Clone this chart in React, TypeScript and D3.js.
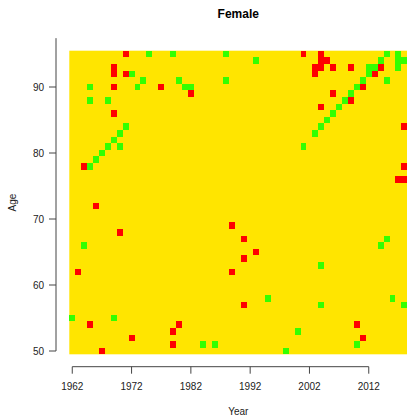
import React from "react";
import * as d3 from "d3";

const years: number[] = d3.range(1962, 2019);
const ages: number[] = d3.range(50, 96);
const xTicks: number[] = [1962, 1972, 1982, 1992, 2002, 2012];
const yTicks: number[] = [50, 60, 70, 80, 90];

const greenCells: [number, number][] = [
  [1975, 95], [1979, 95], [1988, 95], [2015, 95], [2017, 95],
  [1993, 94], [2014, 94], [2017, 94], [2018, 94],
  [2012, 93], [2013, 93], [2017, 93],
  [1972, 92], [2012, 92],
  [1974, 91], [1980, 91], [1988, 91], [2011, 91], [2015, 91],
  [1965, 90], [1973, 90], [1981, 90], [1982, 90], [2010, 90],
  [2009, 89],
  [1965, 88], [1968, 88], [2008, 88],
  [2007, 87],
  [2006, 86],
  [2005, 85],
  [1971, 84], [2004, 84],
  [1970, 83], [2003, 83],
  [1969, 82],
  [1968, 81], [1970, 81], [2001, 81],
  [1967, 80],
  [1966, 79],
  [1965, 78],
  [2015, 67],
  [1964, 66], [2014, 66],
  [2004, 63],
  [1995, 58], [2016, 58],
  [2004, 57], [2018, 57],
  [1962, 55], [1969, 55],
  [2000, 53],
  [1984, 51], [1986, 51], [2010, 51],
  [1998, 50],
];

const redCells: [number, number][] = [
  [1971, 95], [2001, 95], [2004, 95],
  [2004, 94], [2005, 94],
  [1969, 93], [2003, 93], [2004, 93], [2006, 93], [2009, 93], [2014, 93],
  [1969, 92], [1971, 92], [2003, 92], [2013, 92],
  [1969, 90], [1977, 90], [2011, 90],
  [1982, 89], [2006, 89],
  [2009, 88],
  [2004, 87],
  [1969, 86],
  [2018, 84],
  [1964, 78], [2018, 78],
  [2017, 76], [2018, 76],
  [1966, 72],
  [1989, 69],
  [1970, 68],
  [1991, 67],
  [1993, 65],
  [1991, 64],
  [1963, 62], [1989, 62],
  [1991, 57],
  [1965, 54], [1980, 54], [2010, 54],
  [1979, 53],
  [1972, 52], [2011, 52],
  [1979, 51],
  [1967, 50],
];

const W = 407;
const H = 416;
const YELLOW = "#FFE500";
const GREEN = "#33FF00";
const RED = "#FF0000";
const FONT = "'Liberation Sans', Arial, Helvetica, sans-serif";

export default function App() {
  const x = d3
    .scaleLinear()
    .domain([years[0] - 0.5, years[years.length - 1] + 0.5])
    .range([69.3, 407.3]);
  const y = d3
    .scaleLinear()
    .domain([ages[0] - 0.5, ages[ages.length - 1] + 0.5])
    .range([354.3, 50.7]);
  const cw = x(1) - x(0);
  const ch = y(0) - y(1);

  const cell = (c: [number, number], color: string, i: number) => (
    <rect
      key={color + i}
      x={x(c[0] - 0.5)}
      y={y(c[1] + 0.5)}
      width={cw}
      height={ch}
      fill={color}
      shapeRendering="crispEdges"
    />
  );

  const axisY = 366.7;
  const axisX = 56;

  return (
    <div style={{ position: "fixed", left: 0, top: 0 }}>
      <svg width={W} height={H} style={{ display: "block", background: "#fff" }}>
        <rect
          x={x.range()[0]}
          y={y.range()[1]}
          width={x.range()[1] - x.range()[0]}
          height={y.range()[0] - y.range()[1]}
          fill={YELLOW}
        />
        {greenCells.map((c, i) => cell(c, GREEN, i))}
        {redCells.map((c, i) => cell(c, RED, i))}

        {/* title */}
        <text
          x={(x.range()[0] + x.range()[1]) / 2}
          y={17.5}
          textAnchor="middle"
          fontFamily={FONT}
          fontWeight="bold"
          fontSize={12}
          fill="#000"
        >
          Female
        </text>

        {/* x axis */}
        <line
          x1={x(xTicks[0])}
          x2={x(xTicks[xTicks.length - 1])}
          y1={axisY}
          y2={axisY}
          stroke="#444"
          strokeWidth={1}
        />
        {xTicks.map((t) => (
          <g key={"xt" + t}>
            <line x1={x(t)} x2={x(t)} y1={axisY} y2={axisY + 7} stroke="#444" />
            <text
              x={x(t)}
              y={389.5}
              textAnchor="middle"
              fontFamily={FONT}
              fontSize={10}
              fill="#222"
            >
              {t}
            </text>
          </g>
        ))}
        <text
          x={(x.range()[0] + x.range()[1]) / 2}
          y={414.5}
          textAnchor="middle"
          fontFamily={FONT}
          fontSize={10}
          fill="#222"
        >
          Year
        </text>

        {/* y axis */}
        <line
          x1={axisX}
          x2={axisX}
          y1={y(97.4)}
          y2={y(yTicks[0])}
          stroke="#444"
          strokeWidth={1}
        />
        {yTicks.map((t) => (
          <g key={"yt" + t}>
            <line x1={axisX - 7} x2={axisX} y1={y(t)} y2={y(t)} stroke="#444" />
            <text
              x={44}
              y={y(t)}
              dy="0.35em"
              textAnchor="end"
              fontFamily={FONT}
              fontSize={10}
              fill="#222"
            >
              {t}
            </text>
          </g>
        ))}
        <text
          transform={`translate(15.5, ${(y.range()[0] + y.range()[1]) / 2}) rotate(-90)`}
          textAnchor="middle"
          fontFamily={FONT}
          fontSize={10}
          fill="#222"
        >
          Age
        </text>
      </svg>
    </div>
  );
}
